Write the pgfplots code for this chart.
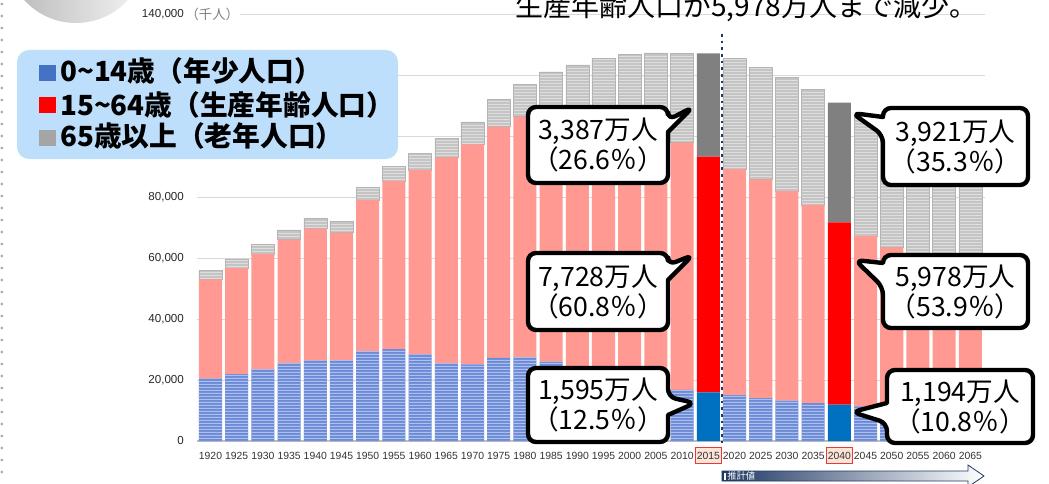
\documentclass[border=0pt]{standalone}
\usepackage{pgfplots}
\usepackage{pgfplotstable}
\pgfplotsset{compat=1.18}
\usetikzlibrary{patterns.meta}
\usepackage{fontspec}
\setmainfont{Liberation Sans}
\newfontfamily\jp{Noto Sans CJK JP}
\definecolor{blueF}{RGB}{108,138,214}
\definecolor{blueS}{RGB}{172,192,238}
\definecolor{pinkF}{RGB}{255,153,145}
\definecolor{grayF}{RGB}{196,196,196}
\definecolor{grayS}{RGB}{222,222,222}
\definecolor{grayE}{RGB}{180,180,180}
\definecolor{blueH}{RGB}{0,112,192}
\definecolor{redH}{RGB}{255,0,0}
\definecolor{grayH}{RGB}{128,128,128}
\definecolor{navy}{RGB}{31,56,100}
\definecolor{legbg}{RGB}{189,223,251}
\definecolor{hlpink}{RGB}{252,228,214}
\definecolor{hlred}{RGB}{228,60,60}
\definecolor{legblue}{RGB}{68,114,196}
\definecolor{leggray}{RGB}{165,165,165}

\pgfdeclarepattern{
  name=hstripe, type=uncolored,
  bottom left={\pgfpoint{0pt}{0pt}},
  top right={\pgfpoint{60pt}{2.1pt}},
  tile size={\pgfpoint{60pt}{2.1pt}},
  code={\pgfpathrectangle{\pgfpoint{-0.5pt}{0pt}}{\pgfpoint{61pt}{0.8pt}}\pgfusepath{fill}}
}

\newcommand\hl[1]{{\setlength\fboxsep{0.8pt}\setlength\fboxrule{0.8pt}\fcolorbox{hlred}{hlpink}{\rule[-1.6pt]{0pt}{9.7pt}#1}}}

% callout with tail on right edge: x1,y1,x2,y2,yA,yB,tx,ty,text
\newcommand\calloutR[9]{%
  \draw[line width=3.3pt, fill=white, line join=round, rounded corners=6pt]
    ({(#1+#3)/2},#2) -- (#3,#2) -- (#3,#5) -- (#7,#8) [sharp corners] -- (#3,#6) [rounded corners=6pt] -- (#3,#4) -- (#1,#4) -- (#1,#2) -- cycle;
  \node[align=center, font=\jp\fontsize{20}{22.5}\selectfont, inner sep=0] at ({(#1+#3)/2},{(#2+#4)/2}) {#9};
}
% callout with tail on left edge
\newcommand\calloutL[9]{%
  \draw[line width=3.3pt, fill=white, line join=round, rounded corners=6pt]
    ({(#1+#3)/2},#2) -- (#3,#2) -- (#3,#4) -- (#1,#4) -- (#1,#6) -- (#7,#8) [sharp corners] -- (#1,#5) [rounded corners=6pt] -- (#1,#2) -- cycle;
  \node[align=center, font=\jp\fontsize{20}{22.5}\selectfont, inner sep=0] at ({(#1+#3)/2},{(#2+#4)/2}) {#9};
}

\pgfplotstableread{
x b bh r rh g gh
0 20416 0 32605 0 2941 0
1 21924 0 34792 0 3021 0
2 23579 0 37807 0 3064 0
3 25545 0 40484 0 3225 0
4 26369 0 43252 0 3454 0
5 26477 0 41821 0 3700 0
6 29428 0 49658 0 4109 0
7 30123 0 55167 0 4786 0
8 28434 0 60469 0 5398 0
9 25529 0 67444 0 6236 0
10 25153 0 72119 0 7393 0
11 27221 0 75807 0 8865 0
12 27507 0 78835 0 10647 0
13 26033 0 82506 0 12468 0
14 22486 0 85904 0 14895 0
15 20014 0 87165 0 18261 0
16 18472 0 86220 0 22005 0
17 17521 0 84092 0 25672 0
18 16803 0 81032 0 29246 0
19 0 15945 0 77282 0 33868
20 15075 0 74058 0 36192 0
21 14073 0 71701 0 36771 0
22 13212 0 68754 0 37160 0
23 12457 0 64942 0 37817 0
24 0 11936 0 59777 0 39206
25 11384 0 55845 0 39192 0
26 10767 0 52750 0 38406 0
27 10123 0 50276 0 37042 0
28 9508 0 47928 0 35403 0
29 8975 0 45291 0 33810 0
}\data

\begin{document}
\begin{tikzpicture}
\begin{axis}[
  at={(147.75pt,31.5pt)}, anchor=south west, scale only axis,
  width=591pt, height=320.25pt,
  ybar stacked, bar width=0.88,
  xmin=-0.515, xmax=29.56, ymin=0, ymax=140000,
  axis x line*=bottom, axis y line*=left,
  x axis line style={draw=black!25, line width=0.8pt},
  y axis line style={draw=none},
  tick style={draw=none}, major tick length=0pt,
  ymajorgrids, grid style={black!15, line width=0.6pt},
  ytick={0,20000,40000,60000,80000,100000,120000,140000},
  yticklabels={0,{20,000},{40,000},{60,000},{80,000},{},{},{140,000}},
  yticklabel style={font=\fontsize{8.7}{9}\selectfont, text=black!85, xshift=-6.3pt},
  xtick={0,...,29},
  xticklabels={1920,1925,1930,1935,1940,1945,1950,1955,1960,1965,1970,1975,1980,1985,1990,1995,2000,2005,2010,\hl{2015},2020,2025,2030,2035,\hl{2040},2045,2050,2055,2060,2065},
  xticklabel style={font=\fontsize{7.8}{8}\selectfont, text=black!80, anchor=base, yshift=-14.2pt},
  scaled y ticks=false,
  clip=false,
]
\addplot[fill=blueF, draw=none, postaction={pattern=hstripe, pattern color=blueS}] table[x=x,y=b]{\data};
\addplot[fill=blueH, draw=none] table[x=x,y=bh]{\data};
\addplot[fill=pinkF, draw=none] table[x=x,y=r]{\data};
\addplot[fill=redH, draw=none] table[x=x,y=rh]{\data};
\addplot[fill=grayF, draw=grayE, line width=0.4pt, postaction={pattern=hstripe, pattern color=grayS}] table[x=x,y=g]{\data};
\addplot[fill=grayH, draw=none] table[x=x,y=gh]{\data};
\end{axis}

\begin{scope}[x=0.75pt, y=0.75pt, yshift=362.25pt, yscale=-1]
  % left dotted border
  \draw[black!35, line width=2.2pt, line cap=round, dash pattern=on 0pt off 9pt] (1.8,4) -- (1.8,483);
  % grey circle
  \shade[left color=black!28, right color=black!4] (76,-47) circle (70);
  % title (cropped)
  \node[anchor=base west, inner sep=0, font=\jp\fontsize{21}{24}\selectfont] at (515,17) {生産年齢人口が5,978万人まで減少。};
  % unit label
  \node[anchor=west, fill=white, inner sep=1pt, text=black!50, font=\jp\fontsize{10}{12}\selectfont] at (184,14) {（千人）};
  % legend
  \fill[legbg, rounded corners=9pt] (17,50) rectangle (398,159);
  \fill[legblue] (39,65) rectangle (56,81);
  \fill[redH] (39,97) rectangle (56,113);
  \fill[leggray] (39,130) rectangle (56,146);
  \node[anchor=base west, inner sep=0, font=\jp\bfseries\fontsize{20.8}{22}\selectfont] at (60,82) {0\char"007E 14歳（年少人口）};
  \node[anchor=base west, inner sep=0, font=\jp\bfseries\fontsize{20.8}{22}\selectfont] at (60,115) {15\char"007E 64歳（生産年齢人口）};
  \node[anchor=base west, inner sep=0, font=\jp\bfseries\fontsize{20.8}{22}\selectfont] at (60,147) {65歳以上（老年人口）};
  % dotted vertical line
  \draw[navy, line width=2pt, dash pattern=on 2pt off 3pt] (722,34) -- (722,443);
  % bottom arrow
  \shade[left color=navy, right color=white] (722,471) -- (968,471) -- (968,465) -- (984,476) -- (968,487) -- (968,481) -- (722,481) -- cycle;
  \draw[navy, line width=0.6pt] (722,471) -- (968,471) -- (968,465) -- (984,476) -- (968,487) -- (968,481) -- (722,481) -- cycle;
  \draw[white, line width=0.8pt] (725,472.5) -- (725,479.5);
  \node[anchor=west, text=white, inner sep=0, font=\jp\fontsize{7}{8}\selectfont] at (727,476) {推計値};
  % callouts
  \calloutR{528}{107}{668}{183}{120}{132}{693}{107}{3,387万人\\（26.6％）}
  \calloutR{528}{253}{668}{330}{265}{280}{693}{255}{7,728万人\\（60.8％）}
  \calloutR{528}{368}{668}{442}{397}{415}{695}{403}{1,595万人\\（12.5％）}
  \calloutL{883}{108}{1028}{185}{117}{135}{852}{113}{3,921万人\\（35.3％）}
  \calloutL{883}{255}{1028}{328}{263}{287}{855}{260}{5,978万人\\（53.9％）}
  \calloutL{887}{370}{1033}{443}{403}{423}{852}{412}{1,194万人\\（10.8％）}
\end{scope}
\pgfresetboundingbox
\useasboundingbox (0,0) rectangle (786.75pt,362.25pt);
\end{tikzpicture}
\end{document}
